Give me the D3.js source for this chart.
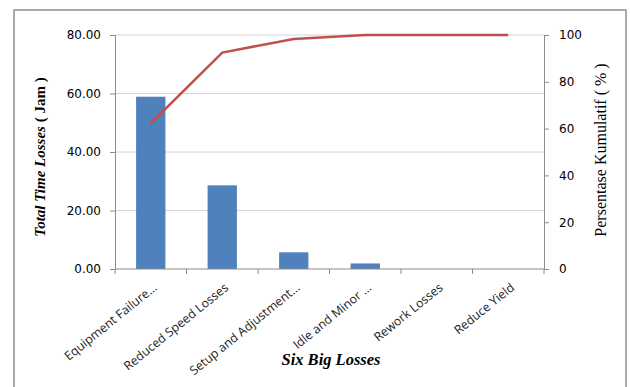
<!DOCTYPE html>
<html><head><meta charset="utf-8">
<script src="https://cdn.jsdelivr.net/npm/d3@7"></script>
<style>body{margin:0;background:#fff;}svg{display:block;}</style>
</head><body>
<svg id="c" width="630" height="387"></svg>
<script>
const categories = ["Equipment Failure...", "Reduced Speed Losses", "Setup and Adjustment...", "Idle and Minor ...", "Rework Losses", "Reduce Yield"];
const lossHours = [58.9, 28.6, 5.7, 1.9, 0, 0];
const cumulativePct = [62.2, 92.5, 98.3, 100, 100, 100];
const leftTicks = [0, 20, 40, 60, 80];
const rightTicks = [0, 20, 40, 60, 80, 100];

const svg = d3.select("#c");
const m = {l:115, r:544, t:35, b:269};

svg.append("rect").attr("x",14).attr("y",10).attr("width",612).attr("height",400)
  .attr("fill","#fff").attr("stroke","#8c8c8c").attr("stroke-width",1.5);

const x = d3.scaleBand().domain(categories).range([m.l, m.r]).paddingInner(0).paddingOuter(0);
const y = d3.scaleLinear().domain([0,80]).range([m.b, m.t]);
const y2 = d3.scaleLinear().domain([0,100]).range([m.b, m.t]);

// gridlines
svg.append("g").selectAll("line").data(leftTicks.filter(d=>d>0)).join("line")
  .attr("x1",m.l).attr("x2",m.r).attr("y1",d=>y(d)).attr("y2",d=>y(d))
  .attr("stroke","#d4d4d4").attr("stroke-width",1);

// bars
const bw = x.bandwidth()*0.41;
svg.append("g").selectAll("rect").data(lossHours).join("rect")
  .attr("x",(d,i)=>x(categories[i])+x.bandwidth()/2-bw/2)
  .attr("width",bw)
  .attr("y",d=>y(d)).attr("height",d=>y(0)-y(d))
  .attr("fill","#4f81bd");

// left axis
const la = svg.append("g").attr("transform",`translate(${m.l},0)`)
  .call(d3.axisLeft(y).tickValues(leftTicks).tickFormat(d3.format(".2f")).tickSize(5).tickPadding(9));
la.selectAll("text").attr("font-family","DejaVu Sans").attr("font-size",12).attr("fill","#000");

// right axis
const ra = svg.append("g").attr("transform",`translate(${m.r},0)`)
  .call(d3.axisRight(y2).tickValues(rightTicks).tickSize(5).tickPadding(10));
ra.selectAll("text").attr("font-family","DejaVu Sans").attr("font-size",12).attr("fill","#000");

// bottom axis
const ba = svg.append("g").attr("transform",`translate(0,${m.b})`)
  .call(d3.axisBottom(x).tickSize(0).tickPadding(0));
ba.selectAll(".tick text")
  .attr("font-family","Open Sans").attr("font-size",12.3).attr("fill","#222")
  .attr("text-anchor","end")
  .attr("transform","translate(7,20) rotate(-39)")
  .attr("dy","0");
// band boundary ticks
ba.append("g").selectAll("line").data(d3.range(categories.length+1)).join("line")
  .attr("x1",i=>m.l+i*x.step()).attr("x2",i=>m.l+i*x.step())
  .attr("y1",0).attr("y2",5).attr("stroke","#8c8c8c");

[la,ra,ba].forEach(g=>{
  g.selectAll(".domain").attr("stroke","#8c8c8c");
  g.selectAll(".tick line").attr("stroke","#8c8c8c");
});
ba.select(".domain").attr("d",`M${m.l},0H${m.r}`);

// cumulative line
const line = d3.line().x((d,i)=>x(categories[i])+x.bandwidth()/2).y(d=>y2(d));
svg.append("path").datum(cumulativePct).attr("d",line)
  .attr("fill","none").attr("stroke","#c0504d").attr("stroke-width",2.5);

// titles
const lt = svg.append("text").attr("transform",`translate(45,157) rotate(-90)`)
  .attr("text-anchor","middle").attr("font-family","Liberation Serif").attr("font-size",15).attr("font-weight","bold");
lt.append("tspan").attr("font-style","italic").text("Total Time Losses");
lt.append("tspan").text(" ( Jam )");

svg.append("text").attr("transform",`translate(606,150) rotate(-90)`)
  .attr("text-anchor","middle").attr("font-family","Liberation Serif").attr("font-size",16)
  .text("Persentase Kumulatif ( % )");

svg.append("text").attr("x",331).attr("y",365)
  .attr("text-anchor","middle").attr("font-family","Liberation Serif").attr("font-size",16.5)
  .attr("font-weight","bold").attr("font-style","italic").text("Six Big Losses");
</script>
</body></html>
